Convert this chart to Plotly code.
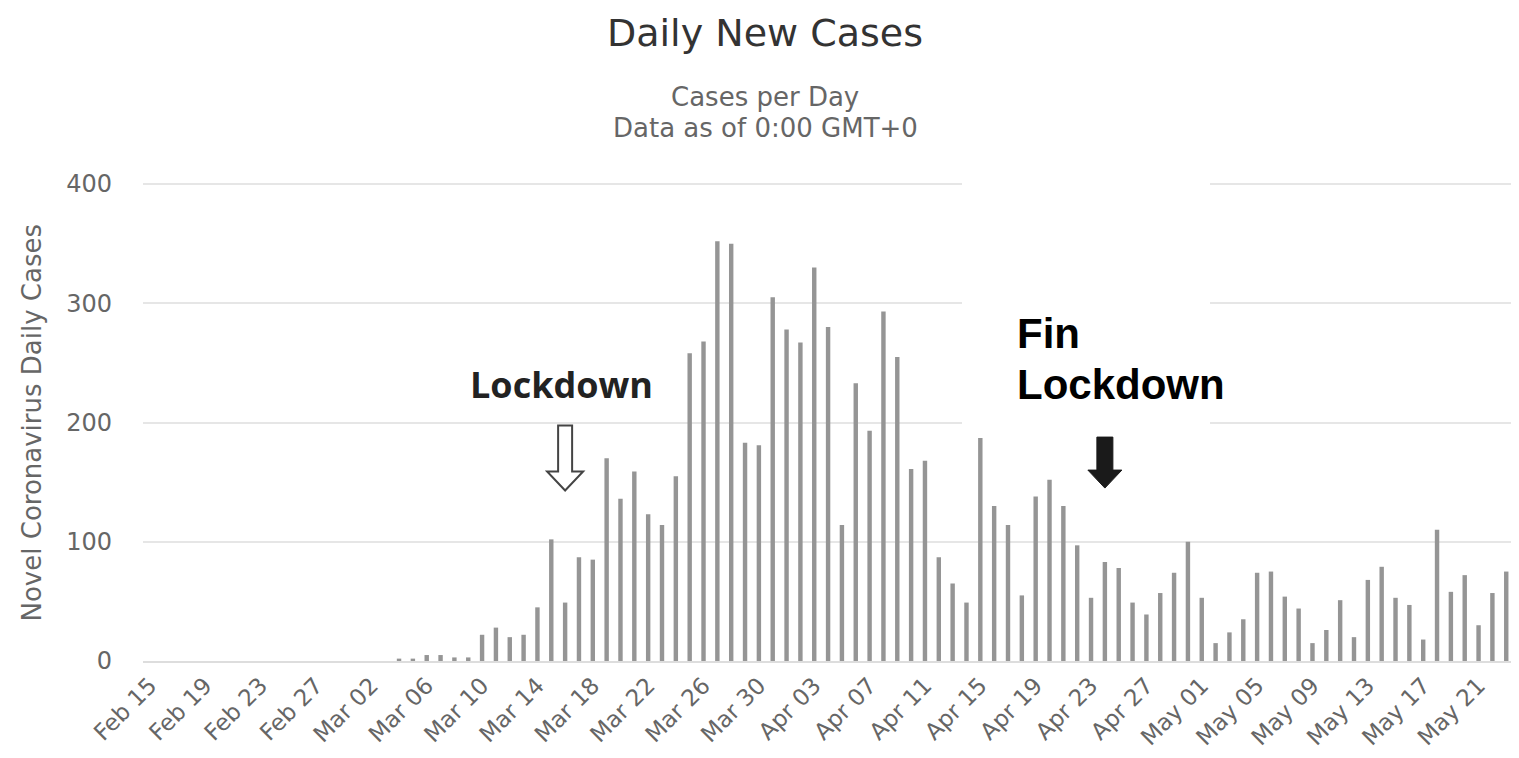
import pandas as pd
import plotly.graph_objects as go

# ============================================
# DATA
# ============================================

start_date = "2020-02-15"

daily_cases = [
    0, 0, 0, 0, 0, 0, 0, 0, 0, 0, 0, 0, 0, 0,      # Feb 15 - Feb 28
    0, 0, 0, 0, 2, 2, 5, 5, 3, 3,                  # Feb 29 - Mar 09
    22, 28, 20, 22, 45, 102, 49, 87, 85, 170,      # Mar 10 - Mar 19
    136, 159, 123, 114, 155, 258, 268, 352, 350, 183,  # Mar 20 - Mar 29
    181, 305, 278, 267, 330, 280, 114, 233, 193, 293,  # Mar 30 - Apr 08
    255, 161, 168, 87, 65, 49, 187, 130, 114, 55,  # Apr 09 - Apr 18
    138, 152, 130, 97, 53, 83, 78, 49, 39, 57,     # Apr 19 - Apr 28
    74, 100, 53, 15, 24, 35, 74, 75, 54, 44,       # Apr 29 - May 08
    15, 26, 51, 20, 68, 79, 53, 47, 18, 110,       # May 09 - May 18
    58, 72, 30, 57, 75, 62,                        # May 19 - May 24
]

dates = pd.date_range(start_date, periods=len(daily_cases), freq="D")

y_ticks = [0, 100, 200, 300, 400]

lockdown_date = "2020-03-16"
end_lockdown_date = "2020-04-24"

title_text = "Daily New Cases"
subtitle_lines = ["Cases per Day", "Data as of 0:00 GMT+0"]
y_title = "Novel Coronavirus Daily Cases"

# ============================================
# FIGURE
# ============================================

# the page body keeps its default 8px margin, so the figure sits at (8, 8);
# keep it small enough that the page does not scroll
OFF = 8
W, H = 1519 - 2 * OFF, 758 - 2 * OFF
PLOT_LEFT, PLOT_BOTTOM, PLOT_TOP = 143, 661, 184   # page pixels
M_L = PLOT_LEFT - OFF
M_B = OFF + H - PLOT_BOTTOM
M_T = PLOT_TOP - 2 - OFF
M_R = 0
plot_h = H - M_T - M_B
plot_w = W - M_L - M_R
y_max = 400 * plot_h / (PLOT_BOTTOM - PLOT_TOP)   # keeps the 400 grid line off the edge
px_per_day = 13.84
x_end = pd.Timestamp("2020-02-14 12:00") + pd.Timedelta(days=plot_w / px_per_day)


def py(pix):
    """page pixel row -> paper y"""
    return (PLOT_BOTTOM - pix) / plot_h


def px(pix):
    """page pixel column -> paper x"""
    return (pix - PLOT_LEFT) / plot_w


fig = go.Figure()

fig.add_trace(go.Bar(
    x=dates,
    y=daily_cases,
    marker=dict(color="#959595", line=dict(width=0)),
    hoverinfo="x+y",
    showlegend=False,
))

fig.update_layout(
    width=W, height=H,
    margin=dict(l=M_L, r=M_R, t=M_T, b=M_B, pad=0),
    paper_bgcolor="white",
    plot_bgcolor="white",
    bargap=0.68,
    font=dict(family="DejaVu Sans", color="#666666"),
    xaxis=dict(
        type="date",
        range=["2020-02-14 12:00", x_end.isoformat()],
        tick0=start_date,
        dtick=4 * 86400000,
        tickformat="%b %d",
        tickangle=-45,
        tickfont=dict(size=23, color="#666666"),
        showgrid=False,
        showline=True,
        linecolor="#dddddd",
        linewidth=2,
        ticks="",
        zeroline=False,
    ),
    yaxis=dict(
        range=[0, y_max],
        tickvals=y_ticks,
        tickfont=dict(size=24, color="#666666"),
        showgrid=True,
        gridcolor="#e6e6e6",
        gridwidth=2,
        zeroline=False,
        ticks="",
        ticklabelstandoff=30,
    ),
)

# white patch pasted over the gridlines behind "Fin Lockdown"
fig.add_shape(
    type="rect", xref="paper", yref="paper",
    x0=px(962), x1=px(1210), y0=py(432), y1=py(160),
    fillcolor="white", line=dict(width=0), layer="above",
)

# title + subtitle
fig.add_annotation(
    text=title_text, xref="paper", yref="paper",
    x=px(765), y=py(33), xanchor="center", yanchor="middle",
    showarrow=False, font=dict(size=38, color="#333333"),
)
for line, ypix in zip(subtitle_lines, [97, 128]):
    fig.add_annotation(
        text=line, xref="paper", yref="paper",
        x=px(765), y=py(ypix), xanchor="center", yanchor="middle",
        showarrow=False, font=dict(size=26, color="#666666"),
    )

# y axis title
fig.add_annotation(
    text=y_title, xref="paper", yref="paper",
    x=px(31), y=py((PLOT_TOP + PLOT_BOTTOM) / 2), xanchor="center", yanchor="middle",
    textangle=-90, showarrow=False, font=dict(size=26, color="#666666"),
)

# "Lockdown" label + hollow arrow
fig.add_annotation(
    text="<b>Lockdown</b>", xref="paper", yref="paper",
    x=px(561), y=py(384), xanchor="center", yanchor="middle",
    showarrow=False, font=dict(family="Open Sans", size=36, color="#222222"),
)
fig.add_shape(
    type="path", xref="x", yref="y",
    xsizemode="pixel", ysizemode="pixel",
    xanchor=lockdown_date, yanchor=143,
    path="M -7 65 L 7 65 L 7 19 L 18 19 L 0 0 L -18 19 L -7 19 Z",
    fillcolor="white", line=dict(color="#444444", width=2), layer="above",
)

# "Fin Lockdown" label + filled arrow
for line, ypix in zip(["<b>Fin</b>", "<b>Lockdown</b>"], [333, 384]):
    fig.add_annotation(
        text=line, xref="paper", yref="paper",
        x=px(1015), y=py(ypix), xanchor="left", yanchor="middle",
        showarrow=False,
        font=dict(family="Liberation Sans", size=42, color="black"),
    )
fig.add_shape(
    type="path", xref="x", yref="y",
    xsizemode="pixel", ysizemode="pixel",
    xanchor=end_lockdown_date, yanchor=145,
    path="M -8 51 L 8 51 L 8 18 L 17 18 L 0 0 L -17 18 L -8 18 Z",
    fillcolor="#1a1a1a", line=dict(color="#1a1a1a", width=1), layer="above",
)

fig.write_html("out.html")
